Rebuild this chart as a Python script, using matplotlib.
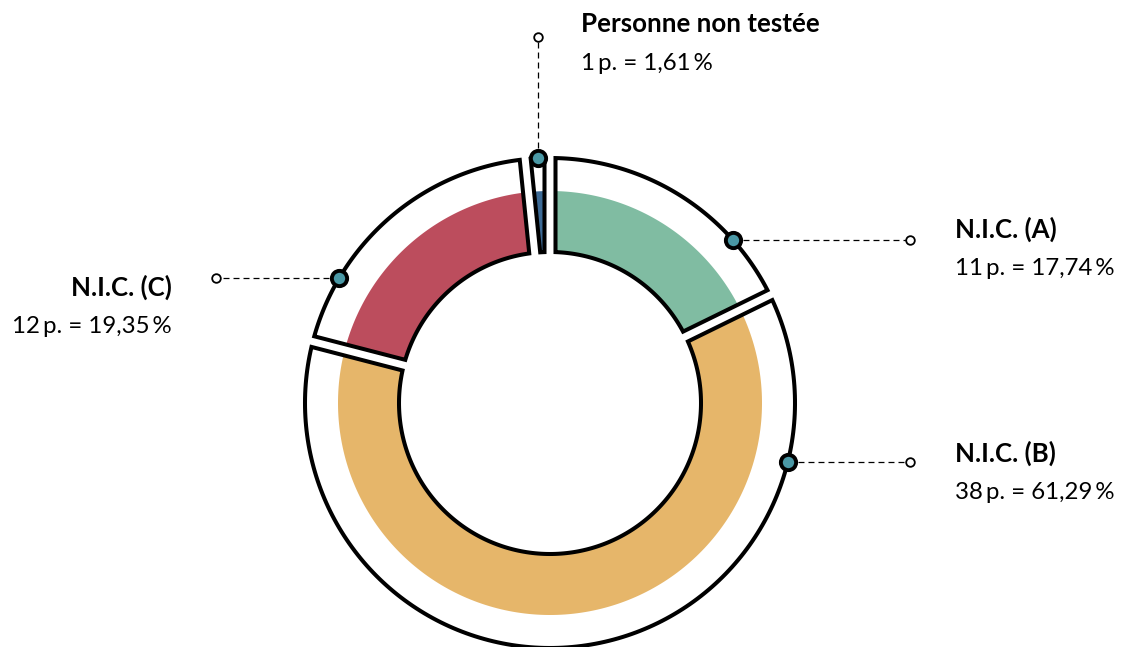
import numpy as np
import matplotlib
matplotlib.use("Agg")
import matplotlib.pyplot as plt
from matplotlib.patches import Polygon

# ---- data ----
categories = ["N.I.C. (A)", "N.I.C. (B)", "N.I.C. (C)", "Personne non testée"]
counts = [11, 38, 12, 1]
fill_colors = ["#80bca2", "#e6b66a", "#bc4d5d", "#3d6b96"]

# ---- layout (pixels, y downward) ----
W, H = 1131, 647
CX, CY = 550, 403
R_OUT, R_IN, R_FILL = 245, 151, 212
GAP = 5.5
label_side = ["right", "right", "left", "top"]
anchor_y = [240, 462, 278, None]          # y of leader lines
title_xy = [(955, 238), (955, 462), (172, 296), (581, 32)]
sub_xy = [(955, 275), (955, 499), (172, 333), (581, 70)]
end_x = [910, 910, 216, None]
top_end_y = 37

plt.rcParams["font.family"] = ["Lato", "DejaVu Sans"]
plt.rcParams["lines.scale_dashes"] = False

fig = plt.figure(figsize=(W / 100, H / 100), dpi=100)
ax = fig.add_axes([0, 0, 1, 1])
ax.set_xlim(0, W)
ax.set_ylim(H, 0)
ax.set_aspect("equal")
ax.axis("off")


def pt(r, a):
    return (CX + r * np.cos(a), CY - r * np.sin(a))


def wedge_poly(a_hi, a_lo, r_out, r_in, d):
    o1 = a_lo + np.arcsin(d / r_out)
    o2 = a_hi - np.arcsin(d / r_out)
    i1 = a_hi - np.arcsin(d / r_in)
    i2 = a_lo + np.arcsin(d / r_in)
    outer = [pt(r_out, a) for a in np.linspace(o1, o2, 200)]
    inner = [pt(r_in, a) for a in np.linspace(i1, i2, 200)]
    return np.array(outer + inner)


total = sum(counts)
start = np.pi / 2
angles = []
for c in counts:
    span = 2 * np.pi * c / total
    a_hi, a_lo = start, start - span
    angles.append((a_hi, a_lo))
    start = a_lo

for (a_hi, a_lo), col in zip(angles, fill_colors):
    ax.add_patch(Polygon(wedge_poly(a_hi, a_lo, R_FILL, R_IN, GAP), closed=True,
                         facecolor=col, edgecolor="none", zorder=2))
    ax.add_patch(Polygon(wedge_poly(a_hi, a_lo, R_OUT, R_IN, GAP), closed=True,
                         facecolor="none", edgecolor="black", lw=2.9,
                         joinstyle="miter", zorder=3))

dot_color = "#4a98a5"
for i, cat in enumerate(categories):
    a_hi, a_lo = angles[i]
    if label_side[i] == "top":
        dx, dy = pt(R_OUT, (a_hi + a_lo) / 2)
        ex, ey = dx, top_end_y
    else:
        dy = anchor_y[i]
        off = np.sqrt(R_OUT ** 2 - (CY - dy) ** 2)
        dx = CX + off if label_side[i] == "right" else CX - off
        ex, ey = end_x[i], dy
    ax.plot([dx, ex], [dy, ey], color="black", lw=0.9, ls=(0, (4.3, 2.9)), zorder=1)
    ax.plot([ex], [ey], marker="o", ms=6.2, mfc="white", mec="black", mew=1.3, zorder=4)
    ax.plot([dx], [dy], marker="o", ms=11, mfc=dot_color, mec="black", mew=2.8, zorder=5)

    ha = "right" if label_side[i] == "left" else "left"
    pct = f"{100 * counts[i] / total:.2f}".replace(".", ",")
    tx, ty = title_xy[i]
    ax.text(tx, ty, cat, ha=ha, va="baseline", fontsize=18.6, fontweight="bold", color="black")
    sx, sy = sub_xy[i]
    ax.text(sx, sy, f"{counts[i]}\u2009p. = {pct}\u2009%", ha=ha, va="baseline",
            fontsize=17.3, color="black")

fig.savefig("out.png", dpi=100)
